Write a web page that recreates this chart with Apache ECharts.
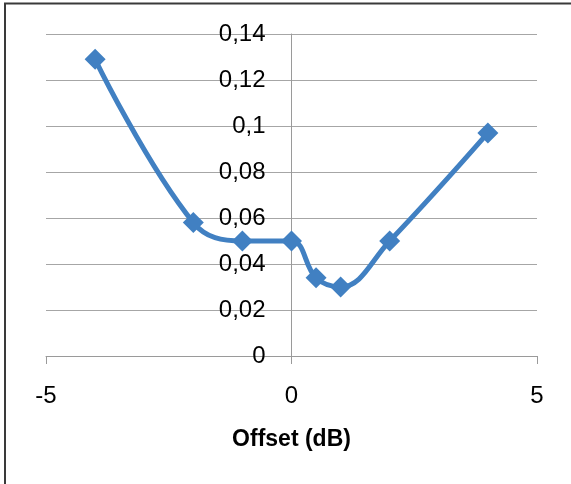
<!DOCTYPE html>
<html>
<head>
<meta charset="utf-8">
<script src="https://cdn.jsdelivr.net/npm/echarts@6/dist/echarts.min.js"></script>
<style>
  html, body { margin: 0; padding: 0; background: #fff; }
  #chart { width: 571px; height: 484px; }
</style>
</head>
<body>
<div id="chart"></div>
<script>
// Offset in dB and the measured value at each offset
const offsets = [-4, -2, -1, 0, 0.5, 1, 2, 4];
const values = [0.129, 0.058, 0.050, 0.050, 0.034, 0.030, 0.050, 0.097];

// Axis ranges
const xRange = { min: -5, max: 5, step: 5 };
const yRange = { min: 0, max: 0.14, step: 0.02 };
const xTitle = 'Offset (dB)';

const points = offsets.map((x, i) => [x, values[i]]);
const decimalComma = v => String(+v.toFixed(2)).replace('.', ',');

// plot area
const W = 571, H = 484;
const plot = { left: 46, right: 34, top: 34, bottom: 128 };
const plotWidth = W - plot.left - plot.right;
// the value axis crosses the horizontal axis at x = 0
const yAxisShift = (0 - xRange.min) / (xRange.max - xRange.min) * plotWidth;

const chart = echarts.init(document.getElementById('chart'), null, { renderer: 'canvas' });
chart.setOption({
  animation: false,
  backgroundColor: '#ffffff',
  textStyle: { fontFamily: 'Liberation Sans' },
  grid: { left: plot.left, right: plot.right, top: plot.top, bottom: plot.bottom, containLabel: false, outerBoundsMode: 'none' },
  xAxis: {
    type: 'value',
    min: xRange.min, max: xRange.max, interval: xRange.step,
    name: xTitle,
    nameLocation: 'middle',
    nameGap: 72,
    nameTextStyle: { fontSize: 23, fontWeight: 'bold', color: '#000', fontFamily: 'Liberation Sans', verticalAlign: 'top' },
    axisLine: { show: true, onZero: false, lineStyle: { color: '#9a9a9a', width: 1 } },
    axisTick: { show: true, inside: false, length: 8, lineStyle: { color: '#9a9a9a', width: 1 } },
    axisLabel: { fontSize: 24, color: '#000', margin: 28 },
    splitLine: { show: false }
  },
  yAxis: {
    type: 'value',
    position: 'left',
    offset: -yAxisShift,
    min: yRange.min, max: yRange.max, interval: yRange.step,
    axisLine: { show: true, onZero: false, lineStyle: { color: '#9a9a9a', width: 1 } },
    axisTick: { show: false },
    axisLabel: { fontSize: 24, color: '#000', margin: 26, formatter: decimalComma },
    splitLine: { show: true, lineStyle: { color: '#a6a6a6', width: 1 } }
  },
  series: [{
    type: 'line',
    data: points,
    smooth: 0.4,
    symbol: 'diamond',
    symbolSize: 21,
    lineStyle: { color: '#4180c2', width: 5 },
    itemStyle: { color: '#4180c2' },
    z: 5
  }],
  graphic: [
    // chart frame: top and left edges
    { type: 'line', shape: { x1: 4, y1: 3.5, x2: W, y2: 3.5 }, style: { stroke: '#3a3a3a', lineWidth: 2 } },
    { type: 'line', shape: { x1: 5, y1: 3, x2: 5, y2: H }, style: { stroke: '#3a3a3a', lineWidth: 2 } }
  ]
});
</script>
</body>
</html>
